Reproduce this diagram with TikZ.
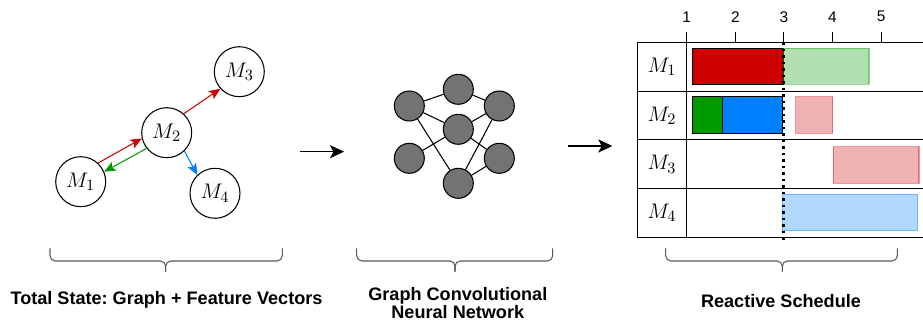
\documentclass[tikz,border=0pt]{standalone}
\usepackage{fontspec}
\setsansfont{Liberation Sans}
\usetikzlibrary{arrows.meta, positioning, calc}

\definecolor{jobred}{HTML}{CC0000}
\definecolor{jobgreen}{HTML}{009900}
\definecolor{jobblue}{HTML}{007FFF}
\definecolor{nngray}{HTML}{737373}

\frenchspacing
\begin{document}
\begin{tikzpicture}[x=0.02cm, y=-0.02cm,
  mach/.style={
    circle, draw, line width=0.6pt, minimum size=1cm, inner sep=0pt,
    font=\fontsize{12.5}{13}\selectfont
  },
  neuron/.style={circle, draw, fill=nngray, line width=0.6pt, minimum size=0.6cm, inner sep=0pt},
  syn/.style={line width=0.6pt},
  msg/.style={-{Stealth[length=6.5pt, width=5.5pt, inset=1.5pt]}, line width=0.6pt},
  flow/.style={-{Stealth[length=8pt, width=7.5pt, inset=2pt]}, line width=0.6pt},
  job/.style={draw, line width=0.6pt},
  plan/.style={draw, line width=0.6pt, fill opacity=0.3, draw opacity=0.4},
  frame/.style={line width=0.6pt},
  curly/.style={draw=black!65, line width=0.6pt, rounded corners=3pt},
  caption/.style={font=\sffamily\bfseries\fontsize{10.3}{10.1}\selectfont, align=center},
  ticklabel/.style={font=\sffamily\fontsize{8.8}{10}\selectfont},
  rowlabel/.style={font=\fontsize{12.5}{13}\selectfont},
]
  \useasboundingbox (0,0) rectangle (923,324);

  % Machine graph
  \node[mach] (m1) at (80.7,181.7)  {$M_1$};
  \node[mach] (m2) at (166.7,132.7) {$M_2$};
  \node[mach] (m3) at (239.3,71.7)  {$M_3$};
  \node[mach] (m4) at (215,193.3)   {$M_4$};

  \draw[msg, jobred]   (m1.47)  -- (m2.193);
  \draw[msg, jobgreen] (m2.218) -- (m1.23);
  \draw[msg, jobred]   (m2.48)  -- (m3.222);
  \draw[msg, jobblue]  (m2.-46) -- (m4.134);

  % Arrows between panels
  \coordinate (a1s) at (300,151.7);
  \coordinate (a1e) at (344,151.7);
  \coordinate (a2s) at (568.3,146);
  \coordinate (a2e) at (612.3,146);
  \draw[flow] (a1s) -- (a1e);
  \draw[flow] (a2s) -- (a2e);

  % Neural network
  \node[neuron] (ntop) at (458.3,89.3)  {};
  \node[neuron] (nlu)  at (409.3,106)   {};
  \node[neuron] (nru)  at (499.3,106)   {};
  \node[neuron] (nmid) at (458.3,129.3) {};
  \node[neuron] (nll)  at (409.3,158.3) {};
  \node[neuron] (nrl)  at (499.3,158.3) {};
  \node[neuron] (nbot) at (458.3,183.3) {};

  \draw[syn] (nlu) -- (ntop);
  \draw[syn] (ntop) -- (nru);
  \draw[syn] (nlu) -- (nmid);
  \draw[syn] (nmid) -- (nru);
  \draw[syn] (nlu) -- (nbot);
  \draw[syn] (nru) -- (nbot);
  \draw[syn] (nll) -- (nmid);
  \draw[syn] (nmid) -- (nrl);
  \draw[syn] (nbot) -- (nrl);

  % Schedule bars
  \fill[job, fill=jobred]   (692.3,48.3) rectangle (783.3,84.3);
  \fill[plan, fill=jobgreen, draw=jobgreen] (783.3,48.3) rectangle (869,84.3);
  \fill[job, fill=jobgreen] (692.3,96.7) rectangle (722.7,133.3);
  \fill[job, fill=jobblue]  (722.7,96.7) rectangle (782.3,133.3);
  \fill[plan, fill=jobred, draw=jobred]   (795.7,96.7) rectangle (832.7,133.3);
  \fill[plan, fill=jobred, draw=jobred]   (833.3,146.7) rectangle (919,183.3);
  \fill[plan, fill=jobblue, draw=jobblue] (782.3,194.3) rectangle (917.7,230.7);

  % Schedule table
  \foreach \r in {0,...,4}
    \draw[frame] (637.3,42.3+48.8*\r) -- (923,42.3+48.8*\r);
  \draw[frame] (637.3,42.3) -- (637.3,237.5);
  \draw[frame] (686.7,31.7) -- (686.7,237.5);
  \foreach \k in {2,...,5}
    \draw[frame] (686.7+48.6*\k-48.6,31.7) -- (686.7+48.6*\k-48.6,42.3);
  \foreach \k in {1,...,5}
    \node[ticklabel] (t\k) at (686.7+48.6*\k-48.6,16.7) {\k};

  \node[rowlabel] (r1) at (662,66.7)  {$M_1$};
  \node[rowlabel] (r2) at (662,115.5) {$M_2$};
  \node[rowlabel] (r3) at (662,164.3) {$M_3$};
  \node[rowlabel] (r4) at (662,213.1) {$M_4$};

  % Current time
  \draw[line width=1.5pt, dash pattern=on 1.5pt off 2.2pt] (783.3,42.3) -- (783.3,241);

  % Braces
  \draw[curly] (50,248.3) -- (50,261) -- (165.7,261) -- (165.7,271.7);
  \draw[curly] (282.3,248.3) -- (282.3,261) -- (165.7,261) -- (165.7,271.7);
  \draw[curly] (356.7,248.3) -- (356.7,261) -- (455,261) -- (455,271.7);
  \draw[curly] (552.7,248.3) -- (552.7,261) -- (455,261) -- (455,271.7);
  \draw[curly] (665.7,248.3) -- (665.7,261) -- (782.3,261) -- (782.3,271.7);
  \draw[curly] (897.3,248.3) -- (897.3,261) -- (782.3,261) -- (782.3,271.7);

  % Captions
  \node[caption] (c1) at (166.5,300)   {Total State: Graph + Feature Vectors};
  \node[caption] (c2) at (457.8,303)   {Graph Convolutional\\Neural Network};
  \node[caption] (c3) at (781,300.7)   {Reactive Schedule};
\end{tikzpicture}
\end{document}
